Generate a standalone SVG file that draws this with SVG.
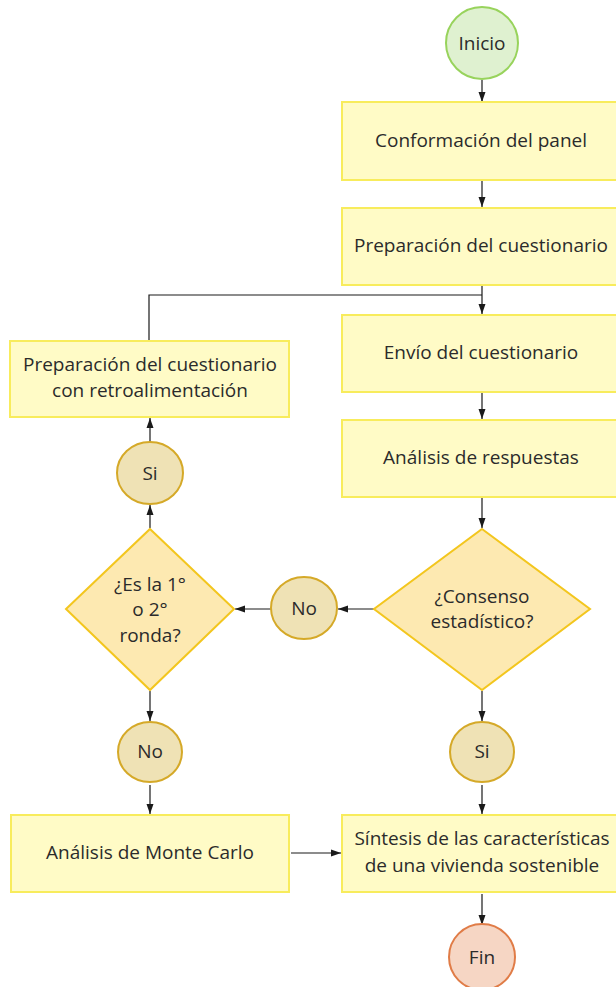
<svg xmlns="http://www.w3.org/2000/svg" width="616" height="987" viewBox="0 0 616 987">
<defs>
<style>
text{font-family:"Open Sans","Noto Sans","DejaVu Sans",sans-serif;font-size:19px;fill:#2b2b2b;text-anchor:middle;dominant-baseline:central}
.box{fill:#fffbc6;stroke:#f8ec5c;stroke-width:2}
.dia{fill:#fde9b1;stroke:#f3c61e;stroke-width:2}
.yn{fill:#efe2b5;stroke:#d5a928;stroke-width:2}
.conn{fill:none;stroke:#1a1a1a;stroke-width:1.2;marker-end:url(#ah)}
.plain{fill:none;stroke:#1a1a1a;stroke-width:1.2}
</style>
<marker id="ah" viewBox="0 0 10 10" refX="10" refY="5" markerWidth="12" markerHeight="10" markerUnits="userSpaceOnUse" orient="auto">
<path d="M0,1.5 L10,5 L0,8.5 Z" fill="#1a1a1a"/>
</marker>
</defs>
<g id="connectors">
<line class="conn" x1="482" y1="80" x2="482" y2="102"/>
<line class="conn" x1="482" y1="181" x2="482" y2="207"/>
<line class="conn" x1="482" y1="286" x2="482" y2="314"/>
<polyline class="plain" points="149,341 149,295 482,295"/>
<line class="conn" x1="482" y1="393" x2="482" y2="419"/>
<line class="conn" x1="482" y1="498" x2="482" y2="528"/>
<line class="conn" x1="374" y1="609" x2="338" y2="609"/>
<line class="conn" x1="271" y1="609" x2="235" y2="609"/>
<line class="conn" x1="150" y1="528" x2="150" y2="505"/>
<line class="conn" x1="150" y1="443" x2="150" y2="418"/>
<line class="conn" x1="150" y1="691" x2="150" y2="721"/>
<line class="conn" x1="150" y1="785" x2="150" y2="814"/>
<line class="conn" x1="482" y1="691" x2="482" y2="721"/>
<line class="conn" x1="482" y1="785" x2="482" y2="814"/>
<line class="conn" x1="291" y1="853" x2="341" y2="853"/>
<line class="conn" x1="482" y1="894" x2="482" y2="925"/>
</g>
<g id="inicio">
<circle cx="482" cy="43" r="36" fill="#dff1d0" stroke="#98d35c" stroke-width="2"/>
<text x="482" y="43">Inicio</text>
</g>
<g id="conformacion">
<rect class="box" x="342" y="102" width="280" height="78"/>
<text x="481" y="140">Conformación del panel</text>
</g>
<g id="preparacion">
<rect class="box" x="342" y="208" width="280" height="77"/>
<text x="481" y="245">Preparación del cuestionario</text>
</g>
<g id="envio">
<rect class="box" x="342" y="315" width="280" height="77"/>
<text x="481" y="352">Envío del cuestionario</text>
</g>
<g id="analisis">
<rect class="box" x="342" y="420" width="280" height="77"/>
<text x="481" y="457">Análisis de respuestas</text>
</g>
<g id="consenso">
<polygon class="dia" points="482,529 590,609 482,690 374,609"/>
<text x="482" y="596">¿Consenso</text>
<text x="482" y="621">estadístico?</text>
</g>
<g id="no-mid">
<ellipse class="yn" cx="304" cy="608" rx="33" ry="31"/>
<text x="304" y="608">No</text>
</g>
<g id="ronda">
<polygon class="dia" points="150,529 234,609 150,690 66,609"/>
<text x="150" y="584">¿Es la 1°</text>
<text x="150" y="609">o 2°</text>
<text x="150" y="635">ronda?</text>
</g>
<g id="si-left">
<ellipse class="yn" cx="150" cy="473" rx="33" ry="31"/>
<text x="150" y="473">Si</text>
</g>
<g id="retro">
<rect class="box" x="10" y="341" width="279" height="76"/>
<text x="150" y="364">Preparación del cuestionario</text>
<text x="150" y="390">con retroalimentación</text>
</g>
<g id="no-bottom">
<ellipse class="yn" cx="150" cy="752" rx="32" ry="30"/>
<text x="150" y="751">No</text>
</g>
<g id="si-right">
<ellipse class="yn" cx="482" cy="752" rx="32" ry="30"/>
<text x="482" y="751">Si</text>
</g>
<g id="montecarlo">
<rect class="box" x="11" y="815" width="278" height="77"/>
<text x="150" y="852">Análisis de Monte Carlo</text>
</g>
<g id="sintesis">
<rect class="box" x="342" y="815" width="280" height="77"/>
<text x="482" y="838">Síntesis de las características</text>
<text x="482" y="865">de una vivienda sostenible</text>
</g>
<g id="fin">
<circle cx="482" cy="957" r="33" fill="#f6d6c4" stroke="#e07c47" stroke-width="2"/>
<text x="482" y="957">Fin</text>
</g>
</svg>
